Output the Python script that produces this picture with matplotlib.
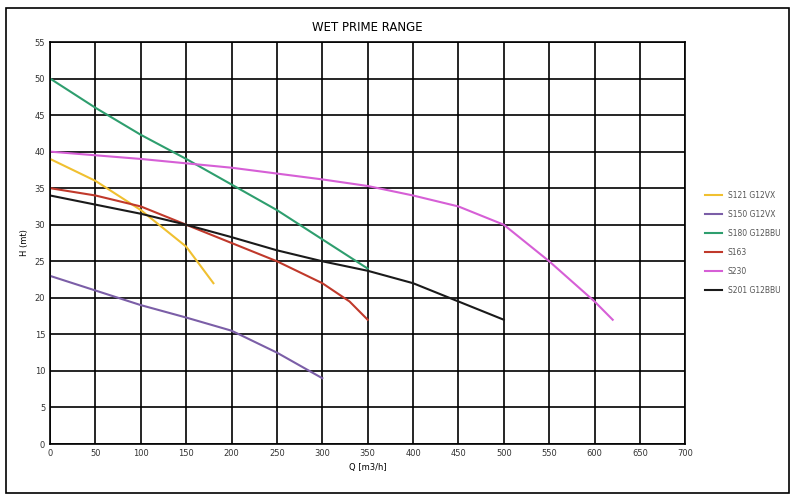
import matplotlib.pyplot as plt
from matplotlib.patches import Rectangle

# pump curves: flow Q (m3/h) vs head H (mt)
s121_q = [0, 50, 100, 150, 180]
s121_h = [39, 36, 32, 27, 22]
s150_q = [0, 50, 100, 150, 200, 250, 300]
s150_h = [23, 21, 19, 17.3, 15.5, 12.5, 9]
s180_q = [0, 50, 100, 150, 200, 250, 300, 350]
s180_h = [50, 46, 42.3, 39, 35.5, 32, 28, 24]
s163_q = [0, 50, 100, 150, 200, 250, 300, 330, 350]
s163_h = [35, 34, 32.5, 30, 27.5, 25, 22, 19.5, 17]
s230_q = [0, 100, 200, 300, 350, 400, 450, 500, 550, 600, 620]
s230_h = [40, 39, 37.8, 36.2, 35.3, 34, 32.5, 30, 25, 19.5, 17]
s201_q = [0, 100, 150, 200, 250, 300, 350, 400, 450, 500]
s201_h = [34, 31.5, 30, 28.3, 26.5, 25, 23.7, 22, 19.5, 17]

series = [
    ("S121 G12VX", s121_q, s121_h, "#f0c030"),
    ("S150 G12VX", s150_q, s150_h, "#7b5ea7"),
    ("S180 G12BBU", s180_q, s180_h, "#2e9e6e"),
    ("S163", s163_q, s163_h, "#c0392b"),
    ("S230", s230_q, s230_h, "#d65fd6"),
    ("S201 G12BBU", s201_q, s201_h, "#1a1a1a"),
]

fig = plt.figure(figsize=(7.95, 5.0), dpi=100)
ax = fig.add_axes([0.063, 0.112, 0.799, 0.804])
for name, q, h, c in series:
    ax.plot(q, h, color=c, linewidth=1.5, label=name)

ax.set_xlim(0, 700)
ax.set_ylim(0, 55)
ax.set_xticks(range(0, 701, 50))
ax.set_yticks(range(0, 56, 5))
ax.grid(True, color="black", linewidth=1.2)
ax.set_axisbelow(True)
ax.tick_params(labelsize=6, length=0, colors="#333333")
ax.set_xlabel("Q [m3/h]", fontsize=6)
ax.set_ylabel("H (mt)", fontsize=6)
ax.set_title("WET PRIME RANGE", fontsize=8.5, pad=8)
for s in ax.spines.values():
    s.set_linewidth(1.2)

ax.legend(loc="center left", bbox_to_anchor=(1.02, 0.5), frameon=False,
          fontsize=5.5, handlelength=2.2, labelspacing=1.3, labelcolor="#555555")

fig.patches.append(Rectangle((0.008, 0.015), 0.984, 0.97, transform=fig.transFigure,
                             fill=False, edgecolor="black", linewidth=1.2))
fig.savefig("out.png")
